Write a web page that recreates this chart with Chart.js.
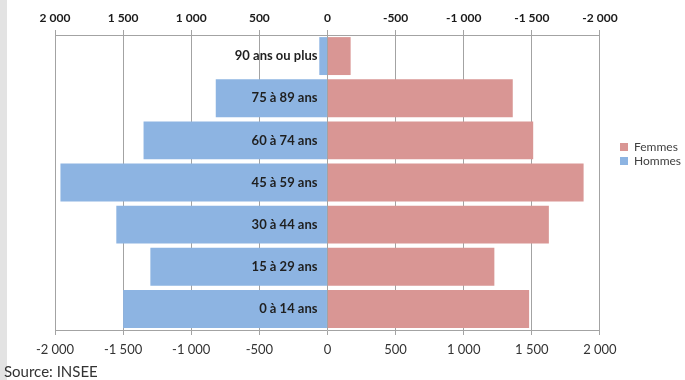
<!DOCTYPE html>
<html>
<head>
<meta charset="utf-8">
<title>Pyramide des âges</title>
<script src="https://cdn.jsdelivr.net/npm/chart.js@4.4.1/dist/chart.umd.min.js"></script>
<style>
  html, body { margin: 0; padding: 0; }
  body { background: linear-gradient(to right, #e3e3e3 0, #e3e3e3 7px, #ffffff 7px); }
  #box { position: relative; width: 685px; height: 380px; }
</style>
</head>
<body>
<div id="box"><canvas id="pyramide"></canvas></div>
<script>
// tranches d'âge, du haut vers le bas
var ages = ['90 ans ou plus', '75 à 89 ans', '60 à 74 ans', '45 à 59 ans', '30 à 44 ans', '15 à 29 ans', '0 à 14 ans'];
// effectifs
var hommes = [60, 820, 1350, 1960, 1550, 1300, 1500];
var femmes = [170, 1360, 1510, 1880, 1625, 1225, 1480];

var bleu = '#8db4e2';
var rose = '#d99694';
var gris = '#a3a3a3';
var police = 'Lato, "Open Sans", sans-serif';

function formatNombre(v) {
    var a = String(Math.abs(v));
    if (a.length > 3) {
        a = a.slice(0, a.length - 3) + '\u202f' + a.slice(-3);
    }
    return (v < 0 ? '-' : '') + a;
}

// etiquettes des tranches, collees a gauche de l'axe zero
var etiquettesAges = {
    id: 'etiquettesAges',
    afterDatasetsDraw: function(chart) {
        var ctx = chart.ctx;
        var x = chart.scales.x.getPixelForValue(0) - 10;
        ctx.save();
        ctx.font = 'bold 13px ' + police;
        ctx.fillStyle = '#1f1f1f';
        ctx.textAlign = 'right';
        ctx.textBaseline = 'middle';
        ages.forEach(function(a, i) {
            ctx.fillText(a, x, chart.scales.y.getPixelForValue(i));
        });
        ctx.restore();
    }
};

// place la legende a la hauteur voulue
var legendeHaut = {
    id: 'legendeHaut',
    afterLayout: function(chart) {
        var lg = chart.legend;
        var w = lg.right - lg.left;
        lg.left = 618;
        lg.right = 618 + w;
        lg.top = 139;
    }
};

var ctx = document.getElementById('pyramide').getContext('2d');
new Chart(ctx, {
    type: 'bar',
    data: {
        labels: ages,
        datasets: [
            {
                label: 'Femmes',
                data: femmes,
                backgroundColor: rose,
                borderWidth: 0,
                barPercentage: 0.9,
                categoryPercentage: 1
            },
            {
                label: 'Hommes',
                data: hommes.map(function(v) { return -v; }),
                backgroundColor: bleu,
                borderWidth: 0,
                barPercentage: 0.9,
                categoryPercentage: 1
            }
        ]
    },
    options: {
        indexAxis: 'y',
        responsive: true,
        maintainAspectRatio: false,
        animation: false,
        layout: {
            padding: { left: 4, right: 12, top: 0, bottom: 0 }
        },
        scales: {
            x: {
                position: 'bottom',
                stacked: true,
                min: -2000,
                max: 2000,
                afterFit: function(scale) { scale.height = 35; },
                ticks: {
                    stepSize: 500,
                    padding: 7,
                    color: '#333',
                    font: { family: police, size: 13 },
                    callback: function(v) { return formatNombre(v); }
                },
                grid: { color: gris, lineWidth: 1, tickLength: 5 },
                border: { color: gris }
            },
            x2: {
                type: 'linear',
                position: 'top',
                reverse: true,
                min: -2000,
                max: 2000,
                afterFit: function(scale) { scale.height = 35; },
                ticks: {
                    stepSize: 500,
                    padding: 5,
                    color: '#1a1a1a',
                    font: { family: police, size: 12, weight: 'bold' },
                    callback: function(v) { return formatNombre(v); }
                },
                grid: { drawOnChartArea: false, color: gris, tickLength: 5 },
                border: { color: gris }
            },
            y: {
                stacked: true,
                ticks: { display: false },
                grid: { display: false },
                border: { display: false },
                afterFit: function(scale) { scale.width = 51; }
            }
        },
        plugins: {
            legend: {
                position: 'right',
                align: 'start',
                labels: {
                    boxWidth: 8,
                    boxHeight: 8,
                    padding: 2,
                    color: '#404040',
                    font: { family: police, size: 12 }
                }
            },
            subtitle: {
                display: true,
                position: 'bottom',
                align: 'start',
                text: 'Source: INSEE',
                color: '#333',
                font: { family: police, size: 15, lineHeight: 1 },
                padding: { top: 0, bottom: 0 }
            },
            tooltip: { enabled: false }
        }
    },
    plugins: [etiquettesAges, legendeHaut]
});
</script>
</body>
</html>
